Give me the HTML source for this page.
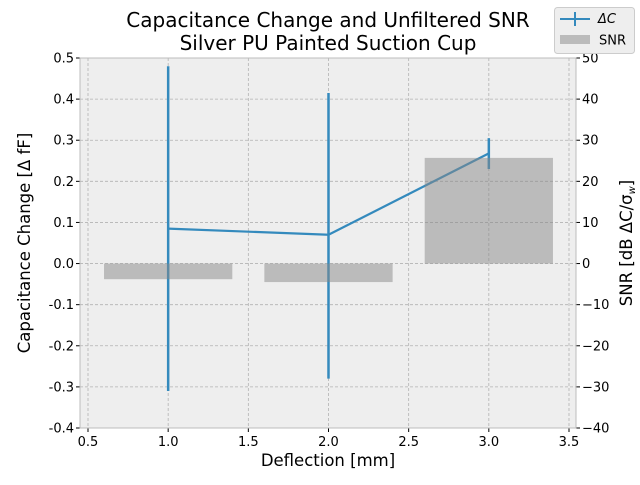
<!DOCTYPE html>
<html><head><meta charset="utf-8"><style>
body{margin:0;background:#fff;font-family:"Liberation Sans","DejaVu Sans",sans-serif}
svg text{font-family:"DejaVu Sans","Liberation Sans",sans-serif}
</style></head><body>
<svg id="c" width="640" height="480" xmlns="http://www.w3.org/2000/svg"></svg>
<script>
const categories=[1,2,3];
const deltaC=[0.085,0.07,0.268];
const errLow=[-0.31,-0.28,0.23];
const errHigh=[0.48,0.415,0.305];
const snr=[-3.8,-4.5,25.7];
const xTicks=[0.5,1.0,1.5,2.0,2.5,3.0,3.5];
const yTicks=[-0.4,-0.3,-0.2,-0.1,0.0,0.1,0.2,0.3,0.4,0.5];
const y2Ticks=[-40,-30,-20,-10,0,10,20,30,40,50];
const L=80,R=576,T=58,B=428;
const X=v=>88+(v-0.5)*160.33;
const Y=v=>T+(0.5-v)/0.9*(B-T);
const Y2=v=>T+(50-v)/90*(B-T);
const s=document.getElementById('c');const NS='http://www.w3.org/2000/svg';
function el(t,a,txt){const e=document.createElementNS(NS,t);for(const k in a)e.setAttribute(k,a[k]);if(txt!=null)e.textContent=txt;s.appendChild(e);return e;}
let e=el('rect',{x:L,y:T,width:R-L,height:B-T,fill:'#eeeeee'});

xTicks.forEach(v=>{el('line',{x1:X(v),x2:X(v),y1:T,y2:B,stroke:'#b2b2b2','stroke-dasharray':'3,2','stroke-width':0.8});
el('line',{x1:X(v),x2:X(v),y1:B,y2:B+4,stroke:'#000'});
e=el('text',{x:X(v),y:B+18,'font-size':13,'text-anchor':'middle'},v.toFixed(1));
});
yTicks.forEach(v=>{el('line',{x1:L,x2:R,y1:Y(v),y2:Y(v),stroke:'#b2b2b2','stroke-dasharray':'3,2','stroke-width':0.8});
el('line',{x1:L-4,x2:L,y1:Y(v),y2:Y(v),stroke:'#000'});
e=el('text',{x:L-6,y:Y(v)+4.5,'font-size':13,'text-anchor':'end'},v.toFixed(1));
});
y2Ticks.forEach(v=>{el('line',{x1:R,x2:R+4,y1:Y2(v),y2:Y2(v),stroke:'#000'});
e=el('text',{x:R+6,y:Y2(v)+4.5,'font-size':13},String(v).replace('-','\u2212'));
});
let pts=categories.map((c,i)=>X(c)+','+Y(deltaC[i])).join(' ');
e=el('polyline',{points:pts,fill:'none',stroke:'#348ABD','stroke-width':2.2});

categories.forEach((c,i)=>{e=el('line',{x1:X(c),x2:X(c),y1:Y(errHigh[i]),y2:Y(errLow[i]),stroke:'#348ABD','stroke-width':2.5});
});
categories.forEach((c,i)=>{const y0=Y2(0),y1=Y2(snr[i]);
e=el('rect',{x:X(c-0.4),width:X(c+0.4)-X(c-0.4),y:Math.min(y0,y1),height:Math.abs(y1-y0),fill:'rgba(136,136,136,0.5)'});
});
el('rect',{x:L,y:T,width:R-L,height:B-T,fill:'none',stroke:'#bcbcbc'});
e=el('text',{x:328,y:27,'font-size':20,'text-anchor':'middle'},'Capacitance Change and Unfiltered SNR');

e=el('text',{x:328,y:50,'font-size':20,'text-anchor':'middle'},'Silver PU Painted Suction Cup');

e=el('text',{x:328,y:466,'font-size':16.5,'text-anchor':'middle'},'Deflection [mm]');

e=el('text',{x:0,y:0,'font-size':16.5,'text-anchor':'middle',transform:'translate(30,243) rotate(-90)'},'Capacitance Change [Δ fF]');

e=el('text',{x:0,y:0,'font-size':16.5,'text-anchor':'middle',transform:'translate(632,243) rotate(-90)'},'SNR [dB ΔC/σ');

const tsp=document.createElementNS(NS,'tspan');tsp.setAttribute('font-size','10');tsp.setAttribute('font-style','italic');tsp.setAttribute('dy','3');tsp.textContent='w';e.appendChild(tsp);
const tsp2=document.createElementNS(NS,'tspan');tsp2.setAttribute('dy','-3');tsp2.textContent=']';e.appendChild(tsp2);
e=el('rect',{x:554.5,y:7.5,width:80,height:46,rx:3,fill:'#eeeeee',stroke:'#cccccc'});

el('line',{x1:560,x2:590,y1:19,y2:19,stroke:'#348ABD','stroke-width':2});
el('line',{x1:575,x2:575,y1:12,y2:26,stroke:'#348ABD','stroke-width':2});
e=el('text',{x:598,y:23,'font-size':13,'font-style':'italic'},'ΔC');

el('rect',{x:560,y:35,width:30,height:9,fill:'#bbbbbb'});
e=el('text',{x:599,y:44.5,'font-size':13},'SNR');

</script>
</body></html>
